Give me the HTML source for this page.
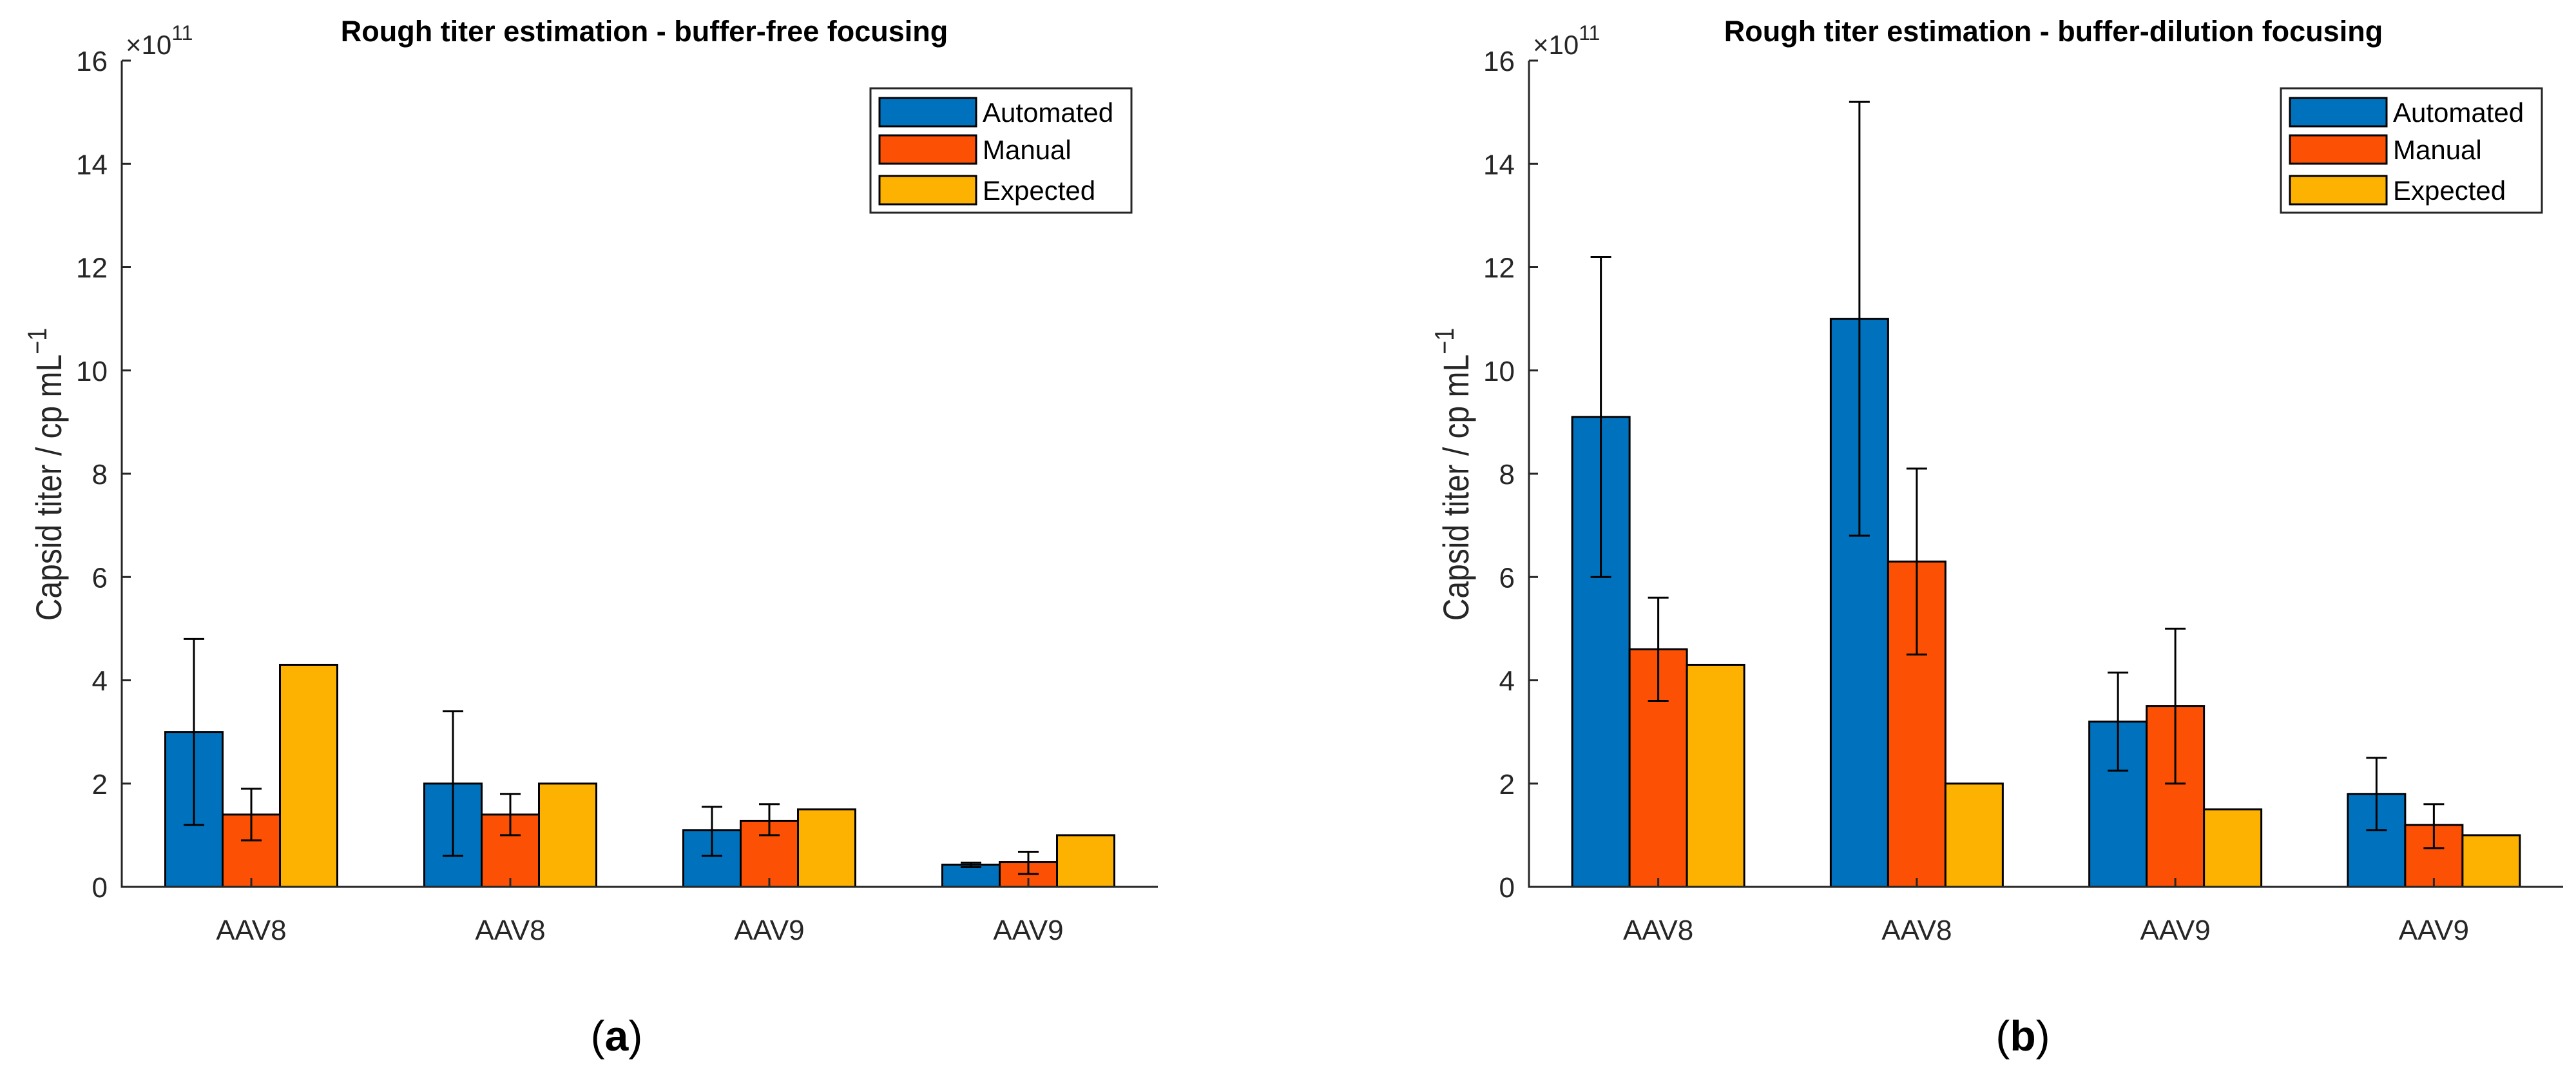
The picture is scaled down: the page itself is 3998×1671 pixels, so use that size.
<!DOCTYPE html>
<html><head><meta charset="utf-8">
<style>
html,body{margin:0;padding:0;background:#fff;}
svg{display:block;}
text{font-family:"Liberation Sans",Arial,sans-serif;}
</style></head>
<body>
<svg id="fig" width="3998" height="1671" viewBox="0 0 3998 1671" xmlns="http://www.w3.org/2000/svg">
<rect x="0" y="0" width="3998" height="1671" fill="#fff"/>
</svg>
<script>
const categories = ["AAV8","AAV8","AAV9","AAV9"];
const seriesNames = ["Automated","Manual","Expected"];
const yTicks = [0,2,4,6,8,10,12,14,16];
// panel (a): buffer-free focusing (values x1e11)
const aAutomated = [3.0, 2.0, 1.1, 0.43];
const aAutomatedHi = [4.8, 3.4, 1.55, 0.47];
const aAutomatedLo = [1.2, 0.6, 0.6, 0.38];
const aManual = [1.4, 1.4, 1.28, 0.48];
const aManualHi = [1.9, 1.8, 1.6, 0.68];
const aManualLo = [0.9, 1.0, 1.0, 0.25];
const aExpected = [4.3, 2.0, 1.5, 1.0];
// panel (b): buffer-dilution focusing
const bAutomated = [9.1, 11.0, 3.2, 1.8];
const bAutomatedHi = [12.2, 15.2, 4.15, 2.5];
const bAutomatedLo = [6.0, 6.8, 2.25, 1.1];
const bManual = [4.6, 6.3, 3.5, 1.2];
const bManualHi = [5.6, 8.1, 5.0, 1.6];
const bManualLo = [3.6, 4.5, 2.0, 0.75];
const bExpected = [4.3, 2.0, 1.5, 1.0];

const NS = "http://www.w3.org/2000/svg";
const svg = document.getElementById('fig');
const colors = ["#0072bd","#fc5104","#fdb201"];
function mk(tag, attrs, parent, txt){
  const e = document.createElementNS(NS, tag);
  for (const k in attrs) e.setAttribute(k, attrs[k]);
  if (txt !== undefined) e.textContent = txt;
  (parent||svg).appendChild(e);
  return e;
}

function panel(cfg){
  const g = mk('g', {});
  
  
  const x0 = cfg.x0, x1 = cfg.x1, yTop = 94, yBot = 1376;
  const ymax = 16;
  const yS = v => yBot - (v/ymax)*(yBot-yTop);
  const unit = (x1-x0)/4;
  const xS = c => x0 + (c+0.5)*unit;
  const bw = 89;
  const vals = [cfg.auto, cfg.man, cfg.exp];
  const his = [cfg.autoHi, cfg.manHi, null];
  const los = [cfg.autoLo, cfg.manLo, null];
  for (let s=0;s<3;s++){
    for (let i=0;i<categories.length;i++){
      const cx = xS(i) + (s-1)*bw;
      const top = yS(vals[s][i]);
      const r = mk('rect', {x:cx-bw/2, y:top, width:bw, height:yBot-top, fill:colors[s], stroke:"#000", 'stroke-width':3}, g);
      
      
      if (his[s]){
        const hy = yS(his[s][i]), ly = yS(los[s][i]);
        const eb = mk('path', {d:`M${cx},${hy}V${ly}M${cx-16},${hy}H${cx+16}M${cx-16},${ly}H${cx+16}`, stroke:"#000", 'stroke-width':3, fill:"none"}, g);
        
        
      }
    }
  }
  const ax = mk('path', {d:`M${x0},${yTop}V${yBot}H${x1}`, stroke:"#262626", 'stroke-width':3, fill:"none"}, g);
  
  
  for (const t of yTicks){
    const y = yS(t);
    const tk = mk('line', {x1:x0, x2:x0+14, y1:y, y2:y, stroke:"#262626", 'stroke-width':3}, g);
    
    
    const lb = mk('text', {x:x0-22, y:y+16, 'text-anchor':'end', 'font-size':44, fill:"#262626"}, g, String(t));
    
    
  }
  for (let i=0;i<categories.length;i++){
    const x = xS(i);
    const tk = mk('line', {x1:x, x2:x, y1:yBot, y2:yBot-14, stroke:"#262626", 'stroke-width':3}, g);
    
    
    const lb = mk('text', {x:x, y:1458, 'text-anchor':'middle', 'font-size':44, fill:"#262626"}, g, categories[i]);
    
    
  }
  const ex = mk('text', {x:x0+6, y:84, 'font-size':42, fill:"#262626"}, g, "\u00d710");
  
  
  mk('tspan', {dy:-22, 'font-size':32}, ex, "11");
  const ti = mk('text', {x:cfg.titleX, y:64, 'text-anchor':'middle', 'font-size':45, 'font-weight':'bold', fill:"#000"}, g, cfg.title);
  
  
  const yl = mk('text', {x:0, y:0, 'text-anchor':'middle', 'font-size':48, fill:"#262626", transform:`translate(${x0-94},736) rotate(-90) scale(1,1.15)`}, g, "Capsid titer / cp mL");
  
  
  mk('tspan', {dy:-20, 'font-size':36}, yl, "\u22121");
  const lx = cfg.legX, ly = 137;
  const lg = mk('g', {}, g);
  
  
  mk('rect', {x:lx, y:ly, width:405, height:193, fill:"#fff", stroke:"#262626", 'stroke-width':3}, lg);
  const rowY = [152, 210, 273];
  for (let s=0;s<3;s++){
    const e = mk('g', {}, lg);
    
    
    mk('rect', {x:lx+14, y:rowY[s], width:150, height:44, fill:colors[s], stroke:"#000", 'stroke-width':3}, e);
    mk('text', {x:lx+174, y:rowY[s]+37, 'font-size':42, fill:"#000"}, e, seriesNames[s]);
  }
  const pl = mk('text', {x:(x0+x1)/2 - 36, y:1630, 'text-anchor':'middle', 'font-size':66, fill:"#000", 'font-family':'"Liberation Serif",serif'}, g, "(");
  mk('tspan', {'font-weight':'bold'}, pl, cfg.letter);
  mk('tspan', {}, pl, ")");
  
  
}

panel({name:'chart-buffer-free', x0:189, x1:1797, titleX:1000, legX:1351, letter:'a',
  title:'Rough titer estimation - buffer-free focusing',
  auto:aAutomated, autoHi:aAutomatedHi, autoLo:aAutomatedLo,
  man:aManual, manHi:aManualHi, manLo:aManualLo, exp:aExpected});
panel({name:'chart-buffer-dilution', x0:2373, x1:3978, titleX:3187, legX:3540, letter:'b',
  title:'Rough titer estimation - buffer-dilution focusing',
  auto:bAutomated, autoHi:bAutomatedHi, autoLo:bAutomatedLo,
  man:bManual, manHi:bManualHi, manLo:bManualLo, exp:bExpected});
</script>
</body></html>
